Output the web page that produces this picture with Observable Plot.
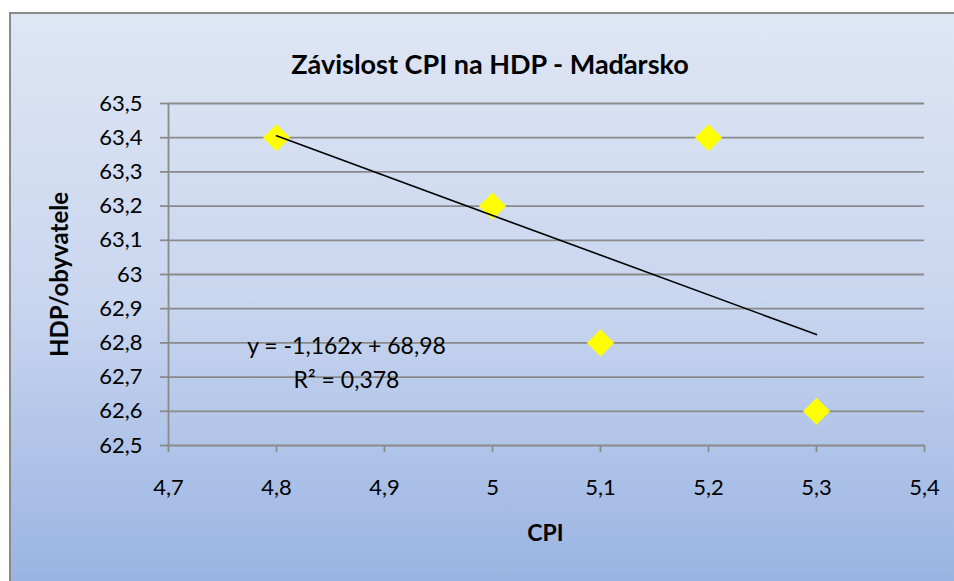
<!DOCTYPE html>
<html>
<head>
<meta charset="utf-8">
<script src="https://cdn.jsdelivr.net/npm/d3@7"></script>
<script src="https://cdn.jsdelivr.net/npm/@observablehq/plot@0.6"></script>
<style>
  html, body { margin: 0; padding: 0; background: #ffffff; overflow: hidden; }
  #wrap { position: relative; width: 954px; height: 581px; overflow: hidden; }
  #bg {
    position: absolute; left: 9px; top: 12px; width: 975px; height: 575px;
    border: 2px solid #8a8a8a; box-sizing: border-box;
    background: linear-gradient(to bottom, #dfe6f4 0%, #c9d6ef 50%, #99b3e2 100%);
  }
  #chart { position: absolute; left: 0; top: 0; }
</style>
</head>
<body>
<div id="wrap"><div id="bg"></div><div id="chart"></div></div>
<script>
// Data
const cpi = [4.8, 5.0, 5.1, 5.2, 5.3];
const hdp = [63.4, 63.2, 62.8, 63.4, 62.6];
const xTicks = [4.7, 4.8, 4.9, 5.0, 5.1, 5.2, 5.3, 5.4];
const yTicks = [62.5, 62.6, 62.7, 62.8, 62.9, 63.0, 63.1, 63.2, 63.3, 63.4, 63.5];
const titleText = "Závislost CPI na HDP - Maďarsko";
const xLabel = "CPI";
const yLabel = "HDP/obyvatele";
const eqText = "y = -1,162x + 68,98";
const r2Text = "R² = 0,378";

const data = cpi.map((x, i) => ({x, y: hdp[i]}));
const fmt = d => String(+d.toFixed(1)).replace(".", ",");
const gray = "#8a8a8a";

const chart = Plot.plot({
  width: 954,
  height: 581,
  marginLeft: 168,
  marginRight: 30,
  marginTop: 103,
  marginBottom: 136,
  style: {background: "transparent", fontFamily: "Lato, 'Noto Sans', sans-serif", color: "#000", overflow: "visible"},
  x: {domain: [4.7, 5.4]},
  y: {domain: [62.5, 63.5]},
  marks: [
    Plot.ruleY(yTicks, {stroke: gray, strokeWidth: 1.8}),
    Plot.ruleX([4.7], {stroke: gray, strokeWidth: 1.8}),
    Plot.axisY({ticks: yTicks, tickSize: 8, tickPadding: 18, tickFormat: fmt, stroke: gray, strokeWidth: 1.8, strokeOpacity: 1, fontSize: 22, label: null}),
    Plot.axisX({ticks: xTicks, tickSize: 7, tickPadding: 27, tickFormat: fmt, stroke: gray, strokeWidth: 1.8, strokeOpacity: 1, fontSize: 22, label: null}),
    Plot.dot(data, {x: "x", y: "y", symbol: "diamond2", r: 12.2, fill: "#ffff00", stroke: "none"}),
    Plot.linearRegressionY(data, {x: "x", y: "y", stroke: "#000", strokeWidth: 1.6, ci: 0}),
    Plot.text([eqText], {frameAnchor: "top-left", dx: 178, dy: 234.5, text: d => d, textAnchor: "middle", fontSize: 23}),
    Plot.text([r2Text], {frameAnchor: "top-left", dx: 178, dy: 268, text: d => d, textAnchor: "middle", fontSize: 23}),
    Plot.text([titleText], {frameAnchor: "top", dx: -56.5, dy: -49, text: d => d, textAnchor: "middle", fontSize: 27, fontWeight: "bold"}),
    Plot.text([xLabel], {frameAnchor: "bottom", dx: -1, dy: 95.5, text: d => d, textAnchor: "middle", fontSize: 23, fontWeight: "bold"}),
    Plot.text([yLabel], {frameAnchor: "left", dx: -108, dy: 0, rotate: -90, text: d => d, textAnchor: "middle", fontSize: 24, fontWeight: "bold"})
  ]
});
document.getElementById("chart").appendChild(chart);
</script>
</body>
</html>
